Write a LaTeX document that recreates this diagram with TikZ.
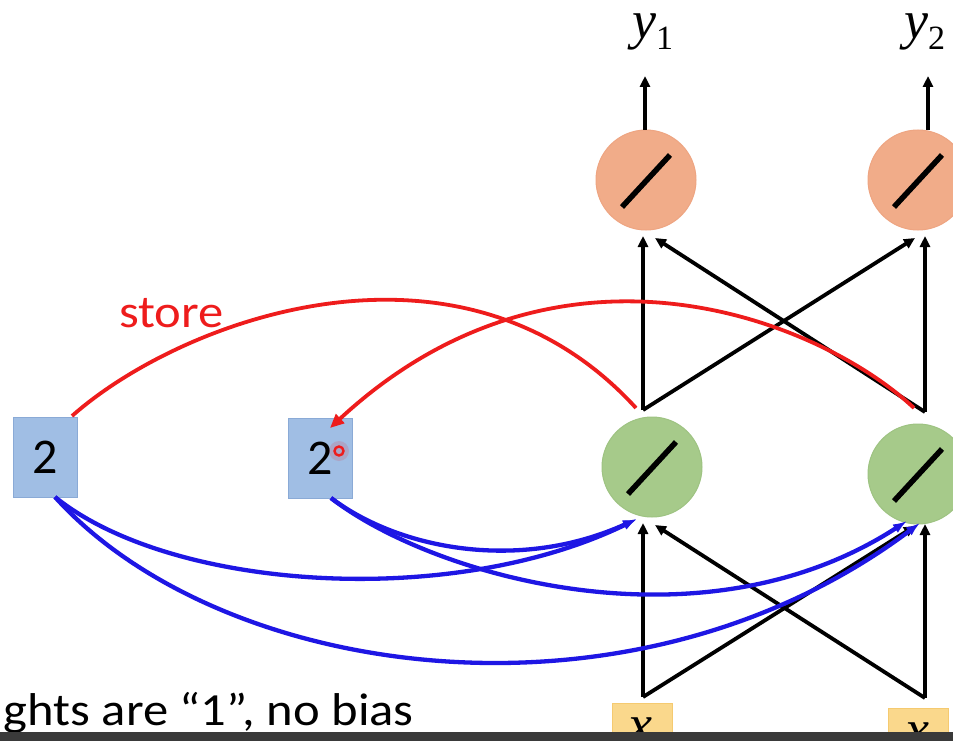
\documentclass[tikz,border=0pt]{standalone}
\usepackage{fontspec}
\setmainfont{Liberation Serif}
\newfontfamily\calib[FakeStretch=1.1]{Carlito}
\newfontfamily\calibn{Carlito}
\usetikzlibrary{arrows.meta}
\definecolor{orfill}{RGB}{241,172,137}
\definecolor{orline}{RGB}{238,165,130}
\definecolor{grfill}{RGB}{166,202,138}
\definecolor{grline}{RGB}{158,195,130}
\definecolor{blfill}{RGB}{160,190,228}
\definecolor{blline}{RGB}{138,170,214}
\definecolor{yefill}{RGB}{250,216,140}
\definecolor{yeline}{RGB}{245,202,112}
\definecolor{redc}{RGB}{238,28,28}
\definecolor{bluec}{RGB}{30,22,228}
\definecolor{barc}{RGB}{58,58,58}
\begin{document}
\begin{tikzpicture}[x=1pt,y=-1pt,
  neuron/.style={circle,minimum size=100pt,inner sep=0pt},
  outn/.style={neuron,fill=orfill,draw=orline,line width=1pt},
  hidn/.style={neuron,fill=grfill,draw=grline,line width=1pt},
  slash/.style={line width=5.5pt},
  memb/.style={rectangle,minimum width=64pt,minimum height=80pt,fill=blfill,draw=blline,line width=1pt,inner sep=0pt,font={\calibn\fontsize{50}{50}\selectfont}},
  inb/.style={rectangle,minimum width=60pt,minimum height=60pt,fill=yefill,draw=yeline,line width=1pt,inner sep=0pt},
  blk/.style={line width=3.8pt,-{Triangle[length=11pt,width=10pt]}},
  blu/.style={draw=bluec,line width=4.3pt,-{Latex[length=14pt,width=10pt]}},
  rd/.style={draw=redc,line width=3.8pt},
  ylab/.style={anchor=base west,inner sep=0pt,text height=26pt,text depth=14pt},
  wtext/.style={inner sep=0pt,font={\calib\fontsize{46}{46}\selectfont}}
]
\useasboundingbox (0,0) rectangle (953,741);
\clip (0,0) rectangle (953,741);
\fill[white] (0,0) rectangle (953,741);

% neurons
\node[outn] (o1) at (646,180) {};
\node[outn] (o2) at (918,180) {};
\node[hidn] (h1) at (652,467) {};
\node[hidn] (h2) at (918,474) {};
\foreach \n in {o1,o2,h1,h2}{
  \draw[slash] ([shift={(-24,27)}]\n.center) -- ([shift={(24,-25)}]\n.center);
}

% memory cells
\node[memb] (m1) at (45,457) {2};
\node[memb] (m2) at (320,458) {2};

% inputs
\node[inb] (x1) at (642,733) {};
\node[inb] (x2) at (918,738) {};
\node[inner sep=0pt,anchor=base] (x1l) at (640,742) {\fontsize{54}{54}\selectfont\textit{x}};
\node[inner sep=0pt,anchor=base] (x2l) at (917,747) {\fontsize{54}{54}\selectfont\textit{x}};

% output labels
\node[ylab] (y1) at (632,39) {\fontsize{54}{54}\selectfont\textit{y}\raisebox{-11pt}{\fontsize{34}{34}\selectfont 1}};
\node[ylab] (y2) at (904,39) {\fontsize{54}{54}\selectfont\textit{y}\raisebox{-11pt}{\fontsize{34}{34}\selectfont 2}};

% coordinates
\coordinate (o1top) at (645,130);
\coordinate (o1arr) at (645,76);
\coordinate (o2top) at (928,130);
\coordinate (o2arr) at (928,76);
\coordinate (h1top) at (643,410);
\coordinate (h2top) at (925,412);
\coordinate (o1in) at (643,236);
\coordinate (o1inx) at (655,238);
\coordinate (o2in) at (925,236);
\coordinate (o2inx) at (915,238);
\coordinate (x1top) at (643,697);
\coordinate (x2top) at (925,698);
\coordinate (h1in) at (643,523);
\coordinate (h1inx) at (655,525);
\coordinate (h2in) at (925,524);
\coordinate (h2inx) at (915,526);
\coordinate (h1blue) at (637,519);
\coordinate (h2blueA) at (907,521);
\coordinate (h2blueB) at (920,523);
\coordinate (m1s) at (55,497);
\coordinate (m2s) at (331,498);
\coordinate (m1tr) at (72,416);
\coordinate (h1red) at (636,408);
\coordinate (h2red) at (914,408);
\coordinate (m2in) at (330,428);

% output arrows
\draw[blk] (o1top) -- (o1arr);
\draw[blk] (o2top) -- (o2arr);

% hidden to output
\draw[blk] (h1top) -- (o1in);
\draw[blk] (h1top) -- (o2inx);
\draw[blk] (h2top) -- (o2in);
\draw[blk] (h2top) -- (o1inx);

% input to hidden
\draw[blk] (x1top) -- (h1in);
\draw[blk] (x1top) -- (h2inx);
\draw[blk] (x2top) -- (h2in);
\draw[blk] (x2top) -- (h1inx);

% blue memory-to-hidden curves
\draw[blu] (m1s) .. controls (170,590) and (450,610) .. (h1blue);
\draw[blu] (m1s) .. controls (220,680) and (630,740) .. (h2blueB);
\draw[blu] (m2s) .. controls (400,550) and (520,572) .. (h1blue);
\draw[blu] (m2s) .. controls (430,575) and (700,655) .. (h2blueA);

% red store curves
\draw[rd] (m1tr) .. controls (180,320) and (460,215) .. (h1red);
\draw[rd,-{Triangle[length=14pt,width=12pt]}] (h2red) .. controls (820,320) and (560,215) .. (m2in);
\node[wtext,text=redc,anchor=base west] (store) at (119,327) {store};

% pointer mark
\fill[redc,opacity=0.15] (339,451) circle (10);
\draw[redc,line width=2.4pt] (339,451) circle (4.5);

% bottom text and bar
\node[wtext,anchor=base east] (note) at (414,725) {ghts are “1”, no bias};
\fill[barc] (0,732) rectangle (953,741);
\end{tikzpicture}
\end{document}
